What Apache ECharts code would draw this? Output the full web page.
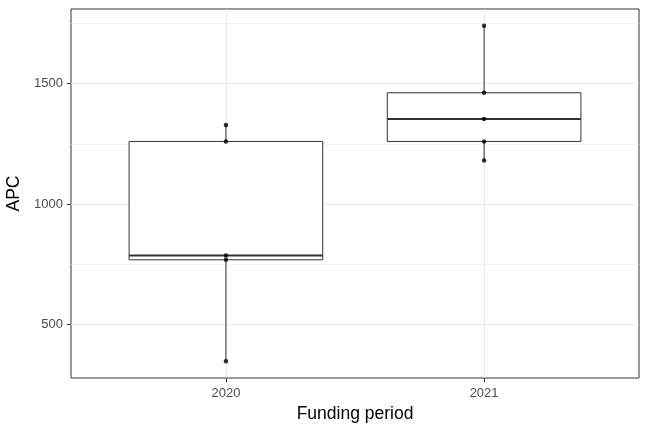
<!DOCTYPE html>
<html>
<head>
<meta charset="utf-8">
<script src="https://cdn.jsdelivr.net/npm/echarts@6/dist/echarts.min.js"></script>
<style>html,body{margin:0;padding:0;background:#fff;}#c{width:648px;height:432px;}</style>
</head>
<body>
<div id="c"></div>
<script>
var categories = ['2020', '2021'];
var points2020 = [1328, 1260, 787, 769, 348];
var points2021 = [1740, 1462, 1353, 1260, 1181];
var boxMin = [348, 1181];
var boxQ1 = [769, 1260];
var boxMedian = [787, 1353];
var boxQ3 = [1260, 1462];
var boxMax = [1328, 1740];
var yTicks = [500, 1000, 1500];
var yMinorGrid = [750, 1250, 1750];
var yMin = 278.4, yMax = 1809.6;

var pointsByCat = [points2020, points2021];
var boxData = categories.map(function (c, i) {
  return [i + 1, boxMin[i], boxQ1[i], boxMedian[i], boxQ3[i], boxMax[i]];
});
var scatterData = [];
pointsByCat.forEach(function (arr, i) {
  arr.forEach(function (v) { scatterData.push([i + 1, v]); });
});

var chart = echarts.init(document.getElementById('c'), null, {renderer: 'canvas'});
var gridColor = '#EBEBEB';
var font = 'Liberation Sans, Arial, sans-serif';

var gridLines = [];
yTicks.forEach(function (v) { gridLines.push({yAxis: v, lineStyle: {type: 'solid', width: 1.1, color: gridColor}}); });
yMinorGrid.forEach(function (v) { gridLines.push({yAxis: v, lineStyle: {type: 'solid', width: 0.6, color: gridColor}}); });
categories.forEach(function (c, i) { gridLines.push({xAxis: i + 1, lineStyle: {type: 'solid', width: 1.1, color: gridColor}}); });

chart.setOption({
  animation: false,
  grid: {left: 71, right: 9, top: 9, bottom: 54, show: true, borderColor: '#333333', borderWidth: 1,
    backgroundColor: '#fff', containLabel: false, outerBoundsMode: 'none'},
  xAxis: {
    type: 'value', min: 0.4, max: 2.6,
    name: 'Funding period', nameLocation: 'middle', nameGap: 26,
    nameTextStyle: {fontFamily: font, fontSize: 17.5, color: '#000'},
    axisLine: {show: false},
    splitLine: {show: false},
    axisTick: {show: true, length: 4, customValues: [1, 2], lineStyle: {color: '#333333', width: 1}},
    axisLabel: {customValues: [1, 2], margin: 9, fontFamily: font, fontSize: 13, color: '#4D4D4D',
      formatter: function (v) { return categories[Math.round(v) - 1] || ''; }}
  },
  yAxis: {
    type: 'value', min: yMin, max: yMax,
    name: 'APC', nameLocation: 'middle', nameGap: 43, nameRotate: 90,
    nameTextStyle: {fontFamily: font, fontSize: 17.5, color: '#000'},
    axisLine: {show: false},
    splitLine: {show: false},
    axisTick: {show: true, length: 4, customValues: yTicks, lineStyle: {color: '#333333', width: 1}},
    axisLabel: {customValues: yTicks, margin: 8, fontFamily: font, fontSize: 13, color: '#4D4D4D',
      formatter: function (v) { return String(Math.round(v)); }}
  },
  series: [
    {
      type: 'line', data: [], silent: true, z: 0, zlevel: 0,
      markLine: {silent: true, symbol: 'none', z: 0, label: {show: false}, animation: false, data: gridLines}
    },
    {
      type: 'custom', z: 3, data: boxData,
      renderItem: function (params, api) {
        var x = api.value(0);
        var halfW = 0.375;
        var pLo = api.coord([x, api.value(1)]);
        var pQ1 = api.coord([x, api.value(2)]);
        var pMed = api.coord([x, api.value(3)]);
        var pQ3 = api.coord([x, api.value(4)]);
        var pHi = api.coord([x, api.value(5)]);
        var xl = api.coord([x - halfW, api.value(2)])[0];
        var xr = api.coord([x + halfW, api.value(2)])[0];
        var st = {stroke: '#333333', lineWidth: 1, fill: null};
        return {
          type: 'group',
          children: [
            {type: 'line', shape: {x1: pLo[0], y1: pLo[1], x2: pQ1[0], y2: pQ1[1]}, style: st},
            {type: 'line', shape: {x1: pQ3[0], y1: pQ3[1], x2: pHi[0], y2: pHi[1]}, style: st},
            {type: 'rect', shape: {x: xl, y: pQ3[1], width: xr - xl, height: pQ1[1] - pQ3[1]},
              style: {stroke: '#333333', lineWidth: 1, fill: '#ffffff'}},
            {type: 'line', shape: {x1: xl, y1: pMed[1], x2: xr, y2: pMed[1]}, style: {stroke: '#333333', lineWidth: 2}}
          ]
        };
      }
    },
    {
      type: 'scatter', z: 5, data: scatterData, symbol: 'circle', symbolSize: 4.5,
      itemStyle: {color: '#000000'}
    }
  ]
});
</script>
</body>
</html>
